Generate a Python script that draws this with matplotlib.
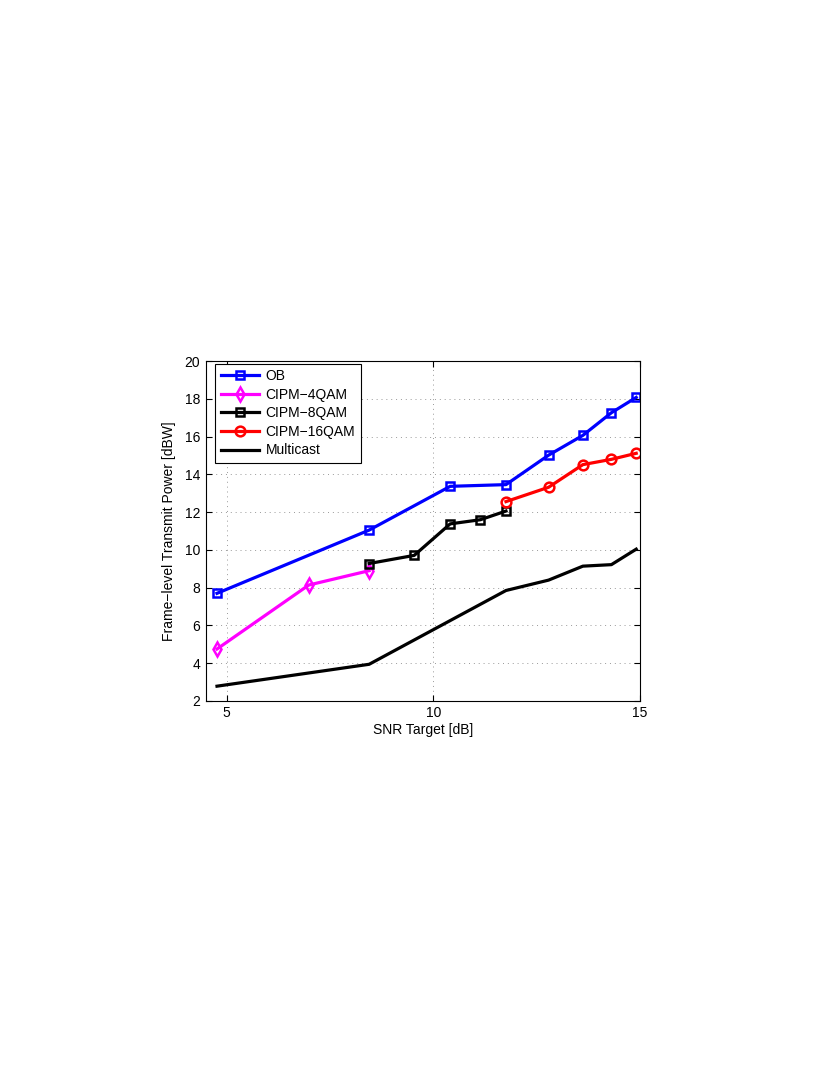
import numpy as np
import matplotlib
matplotlib.use('Agg')
import matplotlib.pyplot as plt

plt.rcParams['font.family'] = ['Liberation Sans', 'DejaVu Sans']

# SNR targets [dB]
snr_ob = [4.77, 8.45, 10.41, 11.76, 12.79, 13.62, 14.31, 14.91]
pow_ob = [7.70, 11.05, 13.37, 13.46, 15.02, 16.07, 17.27, 18.08]

snr_4qam = [4.77, 6.99, 8.45]
pow_4qam = [4.75, 8.14, 8.90]

snr_8qam = [8.45, 9.54, 10.41, 11.14, 11.76]
pow_8qam = [9.28, 9.71, 11.38, 11.60, 12.06]

snr_16qam = [11.76, 12.79, 13.62, 14.31, 14.91]
pow_16qam = [12.56, 13.32, 14.52, 14.80, 15.12]

snr_mc = [4.77, 8.45, 11.76, 12.79, 13.62, 14.31, 14.91]
pow_mc = [2.78, 3.94, 7.85, 8.40, 9.14, 9.22, 10.04]

fig = plt.figure(figsize=(8.3, 10.75), dpi=100)
ax = fig.add_axes([0.248, 0.348, 0.523, 0.316])

ax.plot(snr_ob, pow_ob, color='#0000ff', lw=2.3, marker='s', ms=6, mfc='none', mew=1.8, label='OB')
ax.plot(snr_4qam, pow_4qam, color='#ff00ff', lw=2.3, marker='d', ms=7, mfc='none', mew=1.8, label='CIPM\u22124QAM')
ax.plot(snr_8qam, pow_8qam, color='black', lw=2.3, marker='s', ms=6, mfc='none', mew=1.8, label='CIPM\u22128QAM')
ax.plot(snr_16qam, pow_16qam, color='#ff0000', lw=2.3, marker='o', ms=7, mfc='none', mew=1.8, label='CIPM\u221216QAM')
ax.plot(snr_mc, pow_mc, color='black', lw=2.3, label='Multicast')

ax.set_xlim(4.5, 15)
ax.set_ylim(2, 20)
ax.set_xticks([5, 10, 15])
ax.set_yticks(np.arange(2, 21, 2))
ax.grid(True, linestyle=(0, (1, 4)), color='#999999', lw=0.7)
ax.tick_params(direction='in', labelsize=10, top=True, right=True, length=4, pad=4)
ax.set_xlabel('SNR Target [dB]', fontsize=10, labelpad=2)
ax.set_ylabel('Frame\u2212level Transmit Power [dBW]', fontsize=10, labelpad=6)

leg = ax.legend(loc='upper left', bbox_to_anchor=(0.021, 0.993), borderaxespad=0,
                fontsize=10, fancybox=False, framealpha=1, edgecolor='black',
                handlelength=2.8, labelspacing=0.33, borderpad=0.4, handletextpad=0.45)
leg.get_frame().set_linewidth(0.8)

plt.savefig('out.png')
